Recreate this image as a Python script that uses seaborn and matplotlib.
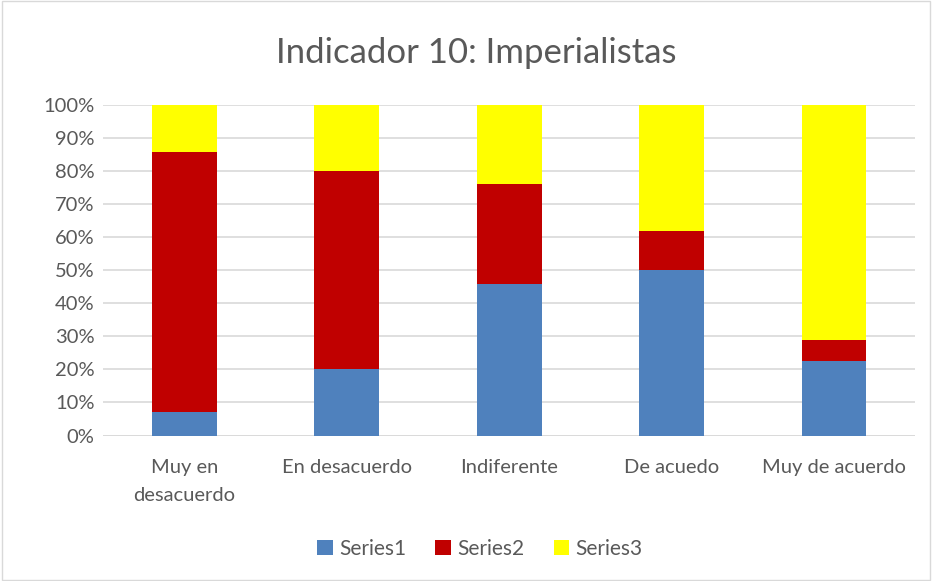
import numpy as np
import pandas as pd
import matplotlib.pyplot as plt
import seaborn as sns

# dados (percentuais)
categorias = ['Muy en\ndesacuerdo', 'En desacuerdo', 'Indiferente', 'De acuedo', 'Muy de acuerdo']
series1 = [7.1, 20.0, 46.0, 50.0, 22.6]
series2 = [78.6, 60.0, 30.0, 12.0, 6.4]
series3 = [14.3, 20.0, 24.0, 38.0, 71.0]
cores = ['#4f81bd', '#c00000', '#ffff00']
nomes = ['Series1', 'Series2', 'Series3']

sns.set_style('white')
plt.rcParams['font.family'] = ['Lato', 'DejaVu Sans']
cinza = '#595959'

fig = plt.figure(figsize=(9.32, 5.81), dpi=100)
ax = fig.add_axes([0.1105, 0.2504, 0.8715, 0.5686])

df = pd.DataFrame({'cat': categorias, 's1': series1, 's2': series2, 's3': series3})
base = np.zeros(len(df))
for col, cor, nome in zip(['s1', 's2', 's3'], cores, nomes):
    sns.barplot(data=df, x='cat', y=col, color=cor, bottom=base, width=0.4,
                label=nome, ax=ax, linewidth=0, saturation=1)
    base = base + df[col].values

h, l = ax.get_legend_handles_labels()
if ax.get_legend() is not None:
    ax.get_legend().remove()

ax.set_ylim(0, 100)
ax.set_xlim(-0.5, 4.5)
ax.set_yticks(range(0, 101, 10))
ax.set_yticklabels([f'{v}%' for v in range(0, 101, 10)])
ax.yaxis.grid(True, color='#d9d9d9', linewidth=1.2)
ax.set_axisbelow(True)
for s in ax.spines.values():
    s.set_visible(False)
ax.axhline(0, color='#d9d9d9', linewidth=1.2, zorder=0.5)
ax.tick_params(axis='both', length=0, labelsize=14.5, colors=cinza)
ax.tick_params(axis='y', pad=6)
ax.tick_params(axis='x', pad=17)
for t in ax.get_xticklabels():
    t.set_linespacing(1.75)
ax.set_xlabel('')
ax.set_ylabel('')

fig.text(0.511, 0.908, 'Indicador 10: Imperialistas', ha='center', va='center',
         fontsize=25, color=cinza)

fig.legend(h, l, loc='center', bbox_to_anchor=(0.515, 0.055), ncol=3, frameon=False,
           fontsize=15, labelcolor=cinza, handlelength=0.75, handleheight=0.75,
           handletextpad=0.3, columnspacing=1.4)

fig.patches.append(plt.Rectangle((0.002, 0.002), 0.996, 0.996, transform=fig.transFigure,
                                 fill=False, edgecolor='#d9d9d9', linewidth=1))

fig.savefig('out.png', dpi=100)
